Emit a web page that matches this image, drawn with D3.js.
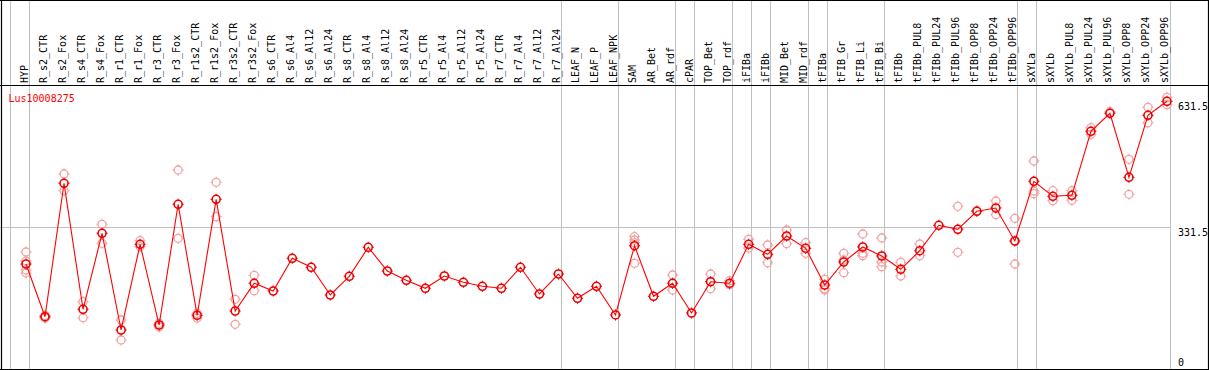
<!DOCTYPE html>
<html>
<head>
<meta charset="utf-8">
<script src="https://cdn.jsdelivr.net/npm/d3@7"></script>
<style>
  html, body { margin: 0; padding: 0; background: #fff; }
  svg { display: block; }
  text { font-family: "DejaVu Sans Mono", monospace; font-size: 10px; }
</style>
</head>
<body>
<svg id="chart" width="1209" height="370"></svg>
<script>
// ---------------- data ----------------
const geneId = "Lus10008275";

const categories = [
  "HYP","R_s2_CTR","R_s2_Fox","R_s4_CTR","R_s4_Fox","R_r1_CTR","R_r1_Fox","R_r3_CTR","R_r3_Fox",
  "R_r1s2_CTR","R_r1s2_Fox","R_r3s2_CTR","R_r3s2_Fox","R_s6_CTR","R_s6_Al4","R_s6_Al12","R_s6_Al24",
  "R_s8_CTR","R_s8_Al4","R_s8_Al12","R_s8_Al24","R_r5_CTR","R_r5_Al4","R_r5_Al12","R_r5_Al24",
  "R_r7_CTR","R_r7_Al4","R_r7_Al12","R_r7_Al24","LEAF_N","LEAF_P","LEAF_NPK","SAM","AR_Bet","AR_rdf",
  "cPAR","TOP_Bet","TOP_rdf","iFIBa","iFIBb","MID_Bet","MID_rdf","tFIBa","tFIB_Gr","tFIB_Li","tFIB_Bi",
  "tFIBb","tFIBb_PUL8","tFIBb_PUL24","tFIBb_PUL96","tFIBb_OPP8","tFIBb_OPP24","tFIBb_OPP96",
  "sXYLa","sXYLb","sXYLb_PUL8","sXYLb_PUL24","sXYLb_PUL96","sXYLb_OPP8","sXYLb_OPP24","sXYLb_OPP96"
];

const means = [
  245.5, 120.5, 437.0, 138.1, 318.4, 89.0, 292.3, 100.8, 387.2,
  123.8, 399.0, 134.0, 199.8, 181.5, 259.1, 237.7, 172.0,
  216.4, 285.2, 228.9, 206.9, 187.9, 217.1, 202.1, 192.6,
  187.9, 237.7, 174.4, 221.8, 164.2, 192.6, 124.6, 289.0, 168.9, 199.8,
  129.3, 203.5, 199.8, 292.3, 268.6, 312.0, 282.8, 195.7, 250.3, 285.9, 264.5,
  233.0, 277.1, 337.4, 327.9, 370.6, 378.4, 300.1,
  441.7, 406.2, 408.5, 560.4, 603.1, 451.2, 598.3, 631.5
];

const replicates = [
  [274.0, 252.7, 231.3, 224.2], [123.4, 117.4], [459.0, 419.4], [156.1, 118.1], [339.7, 294.7],
  [112.7, 65.2], [300.8, 286.6], [104.9, 96.1], [468.5, 306.5],
  [128.6, 117.4], [439.4, 357.8], [161.8, 102.5], [218.7, 182.2], [], [], [], [],
  [], [], [], [], [], [], [], [],
  [], [], [], [], [], [], [], [310.3, 302.5, 296.1, 247.2], [], [219.4, 183.9],
  [], [221.8, 186.9], [205.9, 196.4], [304.1, 283.5], [290.6, 248.6], [326.2, 293.7], [296.1, 270.9],
  [209.2, 186.9, 183.9], [270.9, 255.0, 224.9], [316.7, 270.9, 265.2], [307.2, 250.3, 239.1],
  [249.6, 217.1], [293.0, 265.2], [], [382.4, 273.3], [372.0], [395.0, 362.5], [354.0, 245.5],
  [489.9, 418.7, 412.3], [419.4, 395.7], [419.4, 396.7], [568.9, 553.2], [606.9], [493.9, 410.9],
  [617.3, 580.8], [641.0, 623.5]
];

// group separators drawn before these categories
const separatorsBefore = ["HYP","R_s2_CTR","LEAF_N","SAM","cPAR","TOP_Bet","iFIBa","iFIBb",
  "MID_Bet","tFIBa","tFIB_Gr","tFIBb","sXYLa","sXYLb"];

const yTickValues = [0, 331.5, 631.5];
const yTickLabels = ["0", "331.5", "631.5"];
const yDomainMax = 663.075;

// ---------------- layout ----------------
const W = 1209, H = 370;
const plotLeft = 10, plotRight = 1170;
const headerBottom = 85, plotBottom = 369;

const svg = d3.select("#chart");

const x = d3.scaleBand().domain(categories).range([plotLeft, plotRight]).padding(0);
const px = c => x(c) + 16;
const y = d3.scaleLinear().domain([0, yDomainMax]).range([367.5, 88]);

const crisp = v => Math.floor(v) + 0.5;

// vertical separators (full height)
const sepX = separatorsBefore.map(c => x(c)).concat([plotRight]);
svg.append("g").selectAll("line").data(sepX).join("line")
  .attr("x1", d => crisp(d)).attr("x2", d => crisp(d))
  .attr("y1", 0).attr("y2", plotBottom)
  .attr("stroke", "#c0c0c0").attr("stroke-width", 1);

// horizontal gridline at middle tick
svg.append("line")
  .attr("x1", 0).attr("x2", crisp(plotRight))
  .attr("y1", crisp(y(yTickValues[1]))).attr("y2", crisp(y(yTickValues[1])))
  .attr("stroke", "#c0c0c0").attr("stroke-width", 1);

// frame
const frame = svg.append("g").attr("stroke", "#000").attr("stroke-width", 1.2);
frame.append("line").attr("x1", 0).attr("x2", W).attr("y1", 0.5).attr("y2", 0.5);
frame.append("line").attr("x1", 0).attr("x2", W).attr("y1", headerBottom + 0.5).attr("y2", headerBottom + 0.5);
frame.append("line").attr("x1", 0).attr("x2", W).attr("y1", plotBottom + 0.5).attr("y2", plotBottom + 0.5);
frame.append("line").attr("x1", 1.5).attr("x2", 1.5).attr("y1", 0).attr("y2", H);
frame.append("line").attr("x1", 1208.5).attr("x2", 1208.5).attr("y1", 0).attr("y2", H);

// header labels (rotated)
svg.append("g").selectAll("text").data(categories).join("text")
  .attr("transform", d => `translate(${px(d) + 1.5},${headerBottom - 2}) rotate(-90)`)
  .attr("text-anchor", "start")
  .attr("fill", "#000")
  .text(d => d);

// y tick labels on right
svg.append("g").selectAll("text").data(yTickValues).join("text")
  .attr("x", 1178)
  .attr("y", d => Math.min(y(d) + 8.5, 366))
  .attr("fill", "#000")
  .text((d, i) => yTickLabels[i]);

// gene label
svg.append("text").attr("x", 8.5).attr("y", 101.5).attr("fill", "#ff0000").text(geneId);

// marker helper: circle with small ticks
function marker(g, cx, cy, color, sw) {
  g.append("circle").attr("cx", cx).attr("cy", cy).attr("r", 4)
    .attr("fill", "none").attr("stroke", color).attr("stroke-width", sw);
  const t = [[0, -4, 0, -5.6], [0, 4, 0, 5.6], [-4, 0, -5.6, 0], [4, 0, 5.6, 0]];
  g.append("path")
    .attr("d", t.map(a => `M${cx + a[0]},${cy + a[1]}L${cx + a[2]},${cy + a[3]}`).join(""))
    .attr("stroke", color).attr("stroke-width", 1).attr("fill", "none");
}

// replicate points
const repG = svg.append("g");
categories.forEach((c, i) => {
  replicates[i].forEach(v => marker(repG, px(c), y(v), "#f2a2a2", 1.3));
});

// mean line
const line = d3.line().x((d, i) => px(categories[i])).y(d => y(d));
svg.append("path").datum(means).attr("d", line)
  .attr("fill", "none").attr("stroke", "#ff0000").attr("stroke-width", 1.1);

// mean markers
const meanG = svg.append("g");
categories.forEach((c, i) => marker(meanG, px(c), y(means[i]), "#ee0000", 1.6));
</script>
</body>
</html>
